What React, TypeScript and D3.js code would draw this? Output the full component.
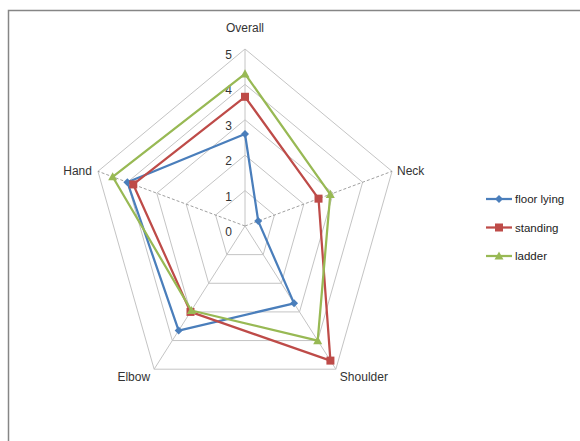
import React from "react";
import * as d3 from "d3";

const categories = ["Overall", "Neck", "Shoulder", "Elbow", "Hand"];
const floorLying = [2.6, 0.45, 2.7, 3.65, 4.0];
const standing = [3.65, 2.5, 4.7, 3.0, 3.8];
const ladder = [4.3, 2.9, 4.0, 2.95, 4.5];
const seriesNames = ["floor lying", "standing", "ladder"];
const tickValues = [0, 1, 2, 3, 4, 5];

const W = 580;
const H = 441;
const cx = 245;
const cy = 226;
const Rx = 154.6;
const Ry = 177;

const colors = ["#4a7ebb", "#be4b48", "#98b954"];
const font = "'Liberation Sans', Arial, sans-serif";

const r = d3.scaleLinear().domain([0, 5]).range([0, 1]);
const angle = (i: number) => (i * 2 * Math.PI) / categories.length;
const pt = (i: number, v: number): [number, number] => [
  cx + Rx * r(v) * Math.sin(angle(i)),
  cy - Ry * r(v) * Math.cos(angle(i)),
];

function Marker({ kind, x, y, color }: { kind: number; x: number; y: number; color: string }) {
  if (kind === 0) {
    const s = 4;
    return (
      <path
        d={`M${x},${y - s}L${x + s},${y}L${x},${y + s}L${x - s},${y}Z`}
        fill={color}
      />
    );
  }
  if (kind === 1) {
    const s = 4;
    return <rect x={x - s} y={y - s} width={2 * s} height={2 * s} fill={color} />;
  }
  const s = 4.5;
  return (
    <path
      d={`M${x},${y - s}L${x + s},${y + s * 0.8}L${x - s},${y + s * 0.8}Z`}
      fill={color}
    />
  );
}

export default function App() {
  const series = [floorLying, standing, ladder];
  const line = d3
    .line<[number, number]>()
    .x((d) => d[0])
    .y((d) => d[1])
    .curve(d3.curveLinearClosed);

  const ring = (v: number) =>
    line(categories.map((_, i) => pt(i, v))) as string;

  const labelPos: { dx: number; dy: number; anchor: string }[] = [
    { dx: 0, dy: -17, anchor: "middle" },
    { dx: 5, dy: 4, anchor: "start" },
    { dx: 4, dy: 12, anchor: "start" },
    { dx: -4, dy: 12, anchor: "end" },
    { dx: -6, dy: 4, anchor: "end" },
  ];

  return (
    <svg
      width={W}
      height={H}
      style={{ position: "fixed", left: 0, top: 0, background: "#fff" }}
    >
      <rect x={8.5} y={10.5} width={W + 20} height={H + 20} fill="#fff" stroke="#868686" strokeWidth={1.5} />

      {/* grid rings */}
      {tickValues.slice(1).map((v) => (
        <path key={v} d={ring(v)} fill="none" stroke="#c4c4c4" strokeWidth={1} />
      ))}

      {/* spokes */}
      {categories.map((_, i) => {
        const [x, y] = pt(i, 5);
        const dashed = i === 1 || i === 4;
        return (
          <line
            key={i}
            x1={cx}
            y1={cy}
            x2={x}
            y2={y}
            stroke={dashed ? "#a0a0a0" : "#c4c4c4"}
            strokeWidth={1}
            strokeDasharray={dashed ? "3,2" : undefined}
          />
        );
      })}

      {/* value axis labels */}
      {tickValues.map((v) => {
        const [, y] = pt(0, v);
        return (
          <text key={v} x={232} y={y + 10} textAnchor="end" fontFamily={font} fontSize={12} fill="#333">
            {v}
          </text>
        );
      })}

      {/* category labels */}
      {categories.map((c, i) => {
        const [x, y] = pt(i, 5);
        const p = labelPos[i];
        return (
          <text key={c} x={x + p.dx} y={y + p.dy} textAnchor={p.anchor as any} fontFamily={font} fontSize={12} fill="#333">
            {c}
          </text>
        );
      })}

      {/* series */}
      {series.map((vals, s) => {
        const pts = vals.map((v, i) => pt(i, v));
        return (
          <g key={s}>
            <path d={line(pts) as string} fill="none" stroke={colors[s]} strokeWidth={2.25} strokeLinejoin="round" />
            {pts.map(([x, y], i) => (
              <Marker key={i} kind={s} x={x} y={y} color={colors[s]} />
            ))}
          </g>
        );
      })}

      {/* legend */}
      {seriesNames.map((n, s) => {
        const y = 199 + s * 28.5;
        return (
          <g key={n}>
            <line x1={486} x2={512} y1={y} y2={y} stroke={colors[s]} strokeWidth={2.25} />
            <Marker kind={s} x={499} y={y} color={colors[s]} />
            <text x={515} y={y + 4} fontFamily={font} fontSize={11.5} fill="#222">
              {n}
            </text>
          </g>
        );
      })}
    </svg>
  );
}
